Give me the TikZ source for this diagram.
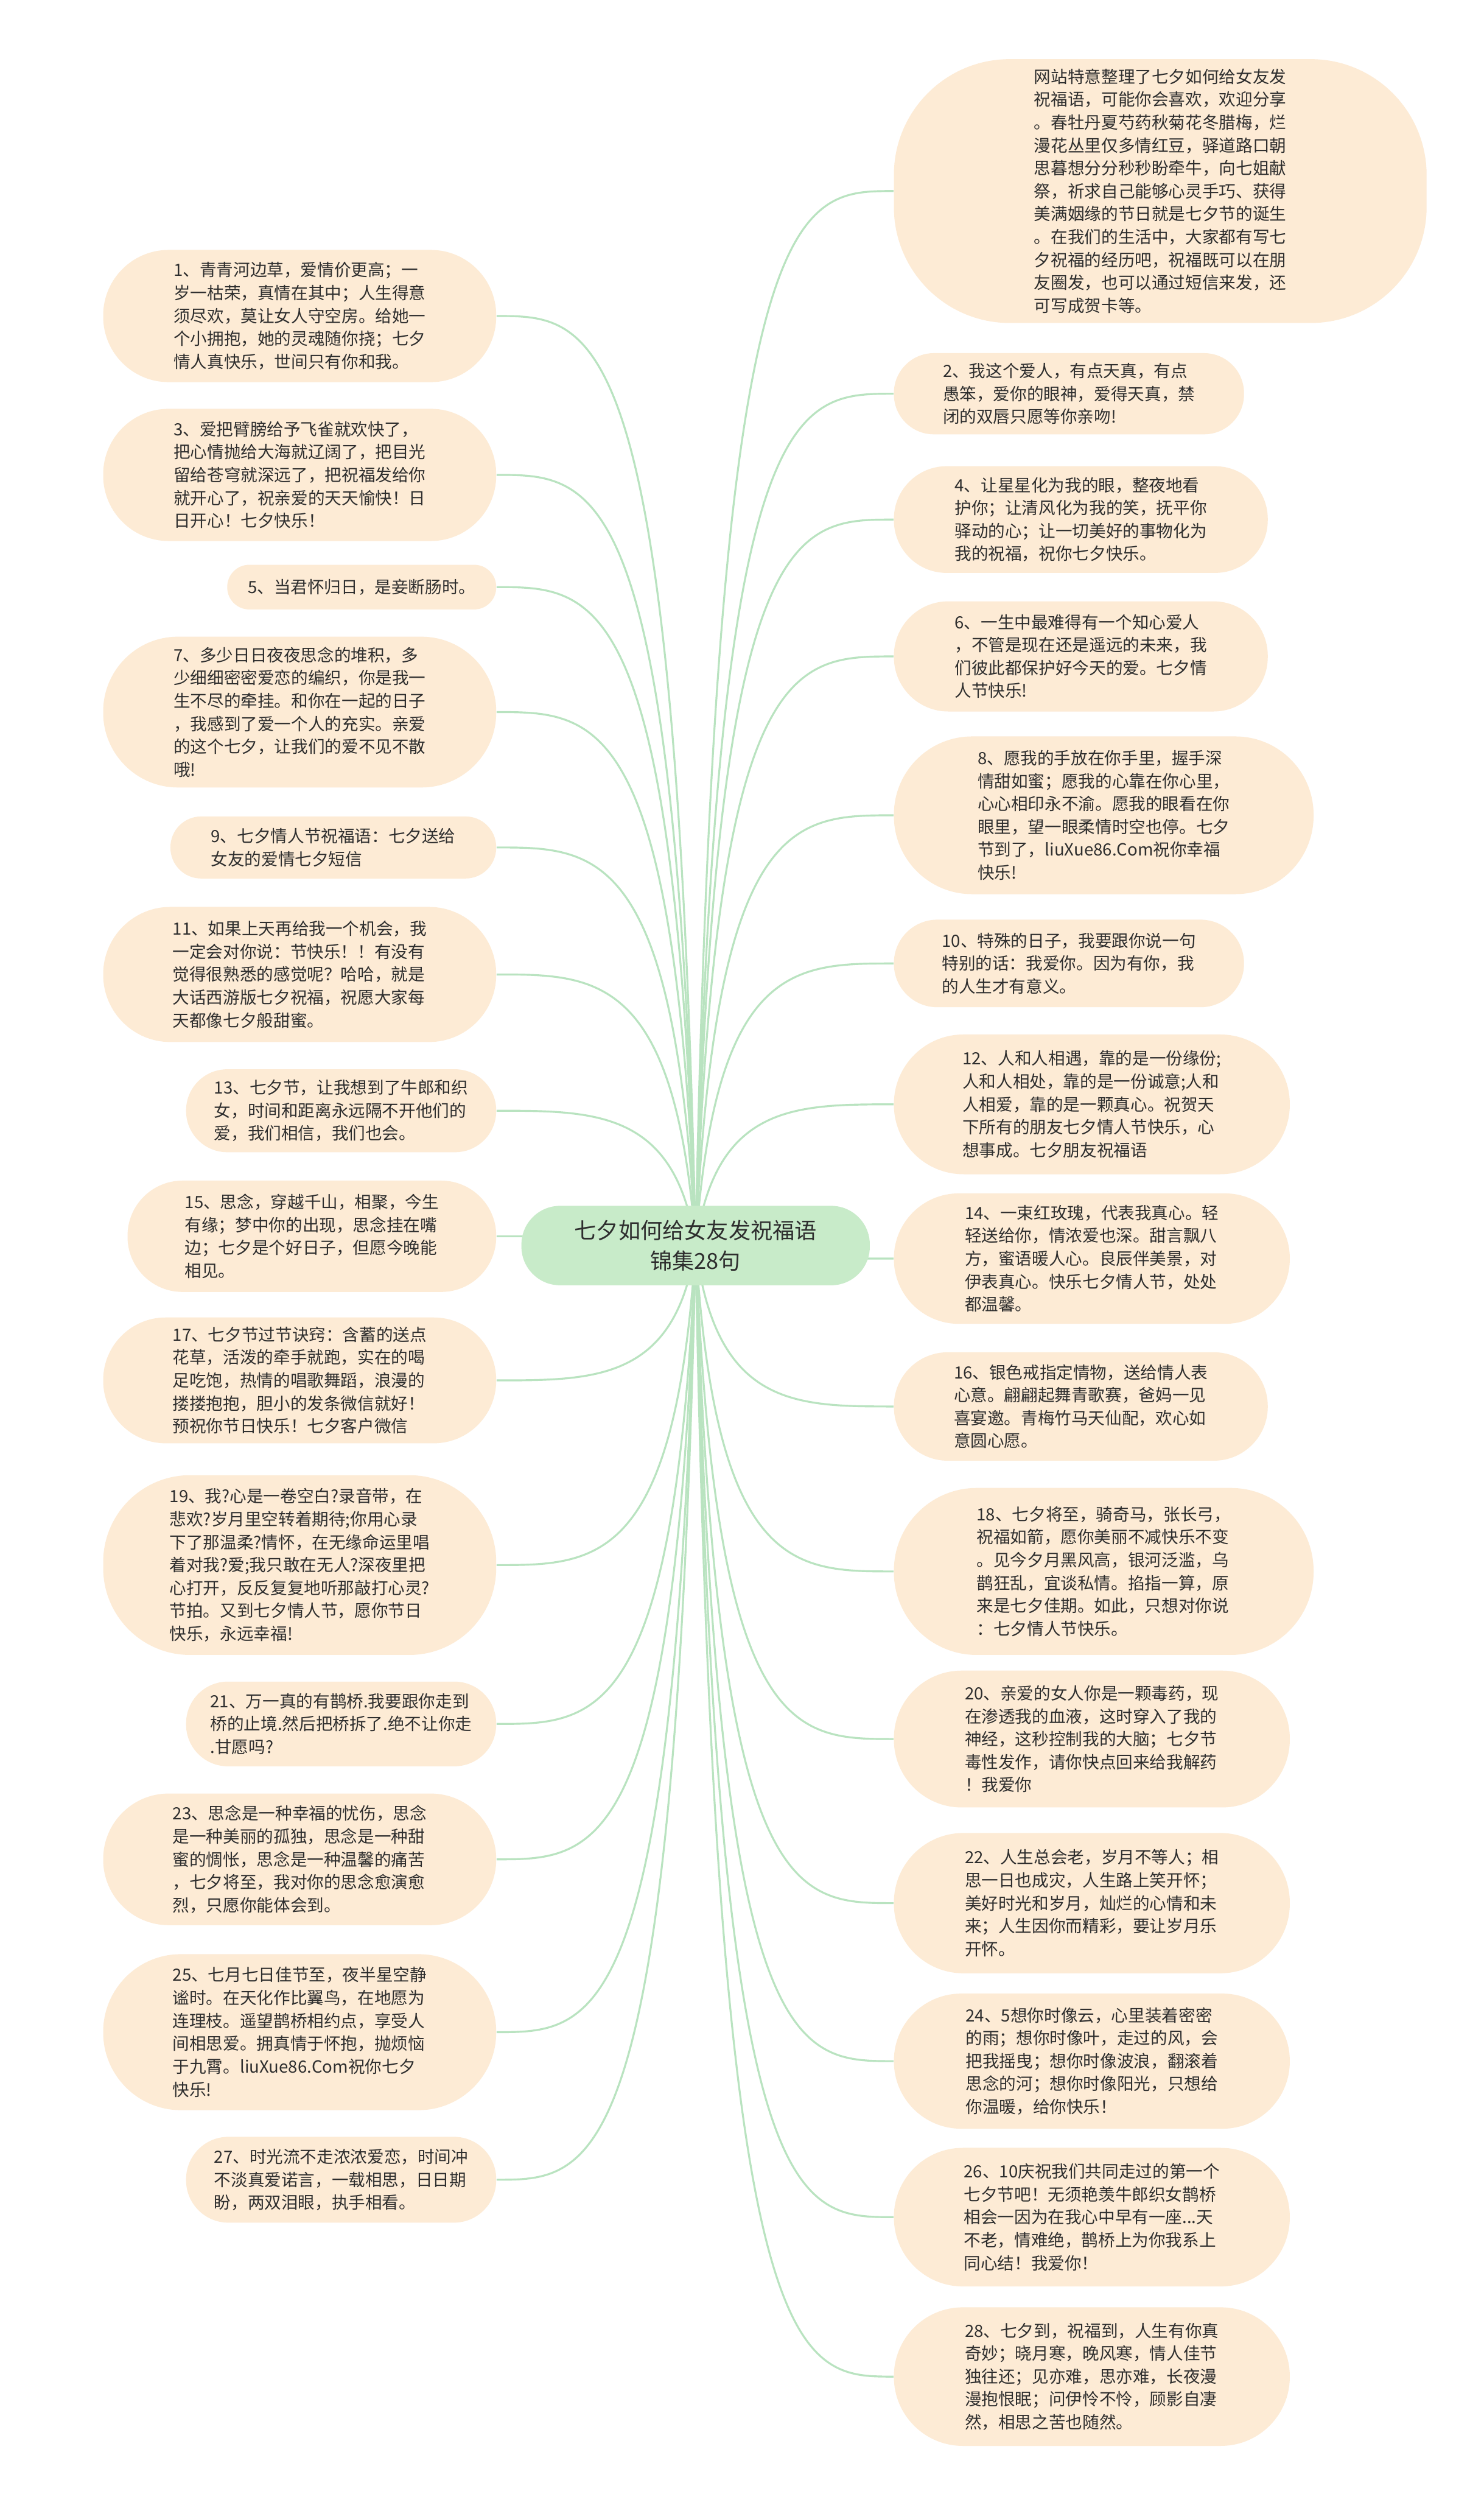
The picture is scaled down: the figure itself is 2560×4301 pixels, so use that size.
\documentclass[tikz,border=0pt]{standalone}
\usepackage{fontspec}
\setmainfont{Noto Sans CJK SC}
\usetikzlibrary{calc}
\definecolor{leaffill}{HTML}{FDEBD5}
\definecolor{rootfill}{HTML}{C8EBC9}
\definecolor{linkc}{HTML}{B9E3C0}
\definecolor{txt}{HTML}{2E2E2E}
\pgfdeclarelayer{bg}
\pgfdeclarelayer{links}
\pgfsetlayers{bg,links,main}
\newcommand\LeafNode[7]{%
  \pgfmathsetmacro\LeafW{(#4-#2)*0.3}%
  \pgfmathsetmacro\LeafH{(#5-#3)*0.3}%
  \pgfmathsetmacro\LeafR{#6*0.3}%
  \node[leaf, minimum width=\LeafW pt, minimum height=\LeafH pt, rounded corners=\LeafR pt] (#1) at ({(#2+#4)/2},{(#3+#5)/2}) {#7};}
\newcommand\LinkTo[2]{%
  \draw[link] let \p1=(root.center), \p2=(#1.#2) in (\p1) .. controls ({\x1+0.1*(\x2-\x1)},\y2) and ({\x1+0.5*(\x2-\x1)},\y2) .. (\p2);}
\begin{document}
\begin{tikzpicture}[x=0.3pt,y=-0.3pt,
  leaf/.style={fill=leaffill, draw=none, inner sep=0pt, align=left, text=txt,
    font=\fontsize{8.7pt}{11.85pt}\selectfont},
  link/.style={draw=linkc, line width=1pt},
  rootbox/.style={fill=rootfill, draw=none, inner sep=0pt, align=center, text=txt,
    font=\fontsize{11.4pt}{15.6pt}\selectfont, rounded corners=20pt}]
\useasboundingbox (0,0) rectangle (2560,4301);
\begin{pgfonlayer}{bg}
\fill[white] (0,0) rectangle (2560,4301);
\end{pgfonlayer}

\node[rootbox, minimum width=180.3pt, minimum height=41.1pt] (root) at (1200,2148)
  {七夕如何给女友发祝福语\\锦集28句};

% left column
\LeafNode{n1}{178}{431}{856}{659}{113}{1、青青河边草，爱情价更高；一\\岁一枯荣，真情在其中；人生得意\\须尽欢，莫让女人守空房。给她一\\个小拥抱，她的灵魂随你挠；七夕\\情人真快乐，世间只有你和我。}
\LeafNode{n3}{178}{705}{856}{933}{113}{3、爱把臂膀给予飞雀就欢快了，\\把心情抛给大海就辽阔了，把目光\\留给苍穹就深远了，把祝福发给你\\就开心了，祝亲爱的天天愉快！日\\日开心！七夕快乐！}
\LeafNode{n5}{392}{974}{856}{1051}{38}{5、当君怀归日，是妾断肠时。}
\LeafNode{n7}{178}{1098}{856}{1358}{129}{7、多少日日夜夜思念的堆积，多\\少细细密密爱恋的编织，你是我一\\生不尽的牵挂。和你在一起的日子\\，我感到了爱一个人的充实。亲爱\\的这个七夕，让我们的爱不见不散\\哦!}
\LeafNode{n9}{294}{1408}{856}{1515}{53}{9、七夕情人节祝福语：七夕送给\\女友的爱情七夕短信}
\LeafNode{n11}{178}{1564}{856}{1797}{116}{11、如果上天再给我一个机会，我\\一定会对你说：节快乐！！有没有\\觉得很熟悉的感觉呢？哈哈，就是\\大话西游版七夕祝福，祝愿大家每\\天都像七夕般甜蜜。}
\LeafNode{n13}{321}{1844}{856}{1987}{71}{13、七夕节，让我想到了牛郎和织\\女，时间和距离永远隔不开他们的\\爱，我们相信，我们也会。}
\LeafNode{n15}{220}{2036}{856}{2228}{95}{15、思念，穿越千山，相聚，今生\\有缘；梦中你的出现，思念挂在嘴\\边；七夕是个好日子，但愿今晚能\\相见。}
\LeafNode{n17}{178}{2272}{856}{2489}{108}{17、七夕节过节诀窍：含蓄的送点\\花草，活泼的牵手就跑，实在的喝\\足吃饱，热情的唱歌舞蹈，浪漫的\\搂搂抱抱，胆小的发条微信就好！\\预祝你节日快乐！七夕客户微信}
\LeafNode{n19}{178}{2544}{856}{2854}{150}{19、我?心是一卷空白?录音带，在\\悲欢?岁月里空转着期待;你用心录\\下了那温柔?情怀，在无缘命运里唱\\着对我?爱;我只敢在无人?深夜里把\\心打开，反反复复地听那敲打心灵?\\节拍。又到七夕情人节，愿你节日\\快乐，永远幸福!}
\LeafNode{n21}{321}{2900}{856}{3046}{72}{21、万一真的有鹊桥.我要跟你走到\\桥的止境.然后把桥拆了.绝不让你走\\.甘愿吗?}
\LeafNode{n23}{178}{3093}{856}{3320}{113}{23、思念是一种幸福的忧伤，思念\\是一种美丽的孤独，思念是一种甜\\蜜的惆怅，思念是一种温馨的痛苦\\，七夕将至，我对你的思念愈演愈\\烈，只愿你能体会到。}
\LeafNode{n25}{178}{3370}{856}{3639}{134}{25、七月七日佳节至，夜半星空静\\谧时。在天化作比翼鸟，在地愿为\\连理枝。遥望鹊桥相约点，享受人\\间相思爱。拥真情于怀抱，抛烦恼\\于九霄。liuXue86.Com祝你七夕\\快乐!}
\LeafNode{n27}{321}{3685}{856}{3833}{73}{27、时光流不走浓浓爱恋，时间冲\\不淡真爱诺言，一载相思，日日期\\盼，两双泪眼，执手相看。}

% right column
\LeafNode{n0}{1542}{102}{2461}{557}{200}{网站特意整理了七夕如何给女友发\\祝福语，可能你会喜欢，欢迎分享\\。春牡丹夏芍药秋菊花冬腊梅，烂\\漫花丛里仅多情红豆，驿道路口朝\\思暮想分分秒秒盼牵牛，向七姐献\\祭，祈求自己能够心灵手巧、获得\\美满姻缘的节日就是七夕节的诞生\\。在我们的生活中，大家都有写七\\夕祝福的经历吧，祝福既可以在朋\\友圈发，也可以通过短信来发，还\\可写成贺卡等。}
\LeafNode{n2}{1542}{609}{2146}{749}{69}{2、我这个爱人，有点天真，有点\\愚笨，爱你的眼神，爱得天真，禁\\闭的双唇只愿等你亲吻!}
\LeafNode{n4}{1542}{804}{2187}{988}{91}{4、让星星化为我的眼，整夜地看\\护你；让清风化为我的笑，抚平你\\驿动的心；让一切美好的事物化为\\我的祝福，祝你七夕快乐。}
\LeafNode{n6}{1542}{1037}{2187}{1227}{94}{6、一生中最难得有一个知心爱人\\，不管是现在还是遥远的未来，我\\们彼此都保护好今天的爱。七夕情\\人节快乐!}
\LeafNode{n8}{1542}{1270}{2266}{1542}{135}{8、愿我的手放在你手里，握手深\\情甜如蜜；愿我的心靠在你心里，\\心心相印永不渝。愿我的眼看在你\\眼里，望一眼柔情时空也停。七夕\\节到了，liuXue86.Com祝你幸福\\快乐!}
\LeafNode{n10}{1542}{1586}{2146}{1737}{75}{10、特殊的日子，我要跟你说一句\\特别的话：我爱你。因为有你，我\\的人生才有意义。}
\LeafNode{n12}{1542}{1784}{2225}{2025}{120}{12、人和人相遇，靠的是一份缘份;\\人和人相处，靠的是一份诚意;人和\\人相爱，靠的是一颗真心。祝贺天\\下所有的朋友七夕情人节快乐，心\\想事成。七夕朋友祝福语}
\LeafNode{n14}{1542}{2058}{2225}{2283}{112}{14、一束红玫瑰，代表我真心。轻\\轻送给你，情浓爱也深。甜言飘八\\方，蜜语暖人心。良辰伴美景，对\\伊表真心。快乐七夕情人节，处处\\都温馨。}
\LeafNode{n16}{1542}{2332}{2187}{2519}{93}{16、银色戒指定情物，送给情人表\\心意。翩翩起舞青歌赛，爸妈一见\\喜宴邀。青梅竹马天仙配，欢心如\\意圆心愿。}
\LeafNode{n18}{1542}{2566}{2266}{2854}{143}{18、七夕将至，骑奇马，张长弓，\\祝福如箭，愿你美丽不减快乐不变\\。见今夕月黑风高，银河泛滥，乌\\鹊狂乱，宜谈私情。掐指一算，原\\来是七夕佳期。如此，只想对你说\\：七夕情人节快乐。}
\LeafNode{n20}{1542}{2881}{2225}{3117}{117}{20、亲爱的女人你是一颗毒药，现\\在渗透我的血液，这时穿入了我的\\神经，这秒控制我的大脑；七夕节\\毒性发作，请你快点回来给我解药\\！我爱你}
\LeafNode{n22}{1542}{3161}{2225}{3403}{120}{22、人生总会老，岁月不等人；相\\思一日也成灾，人生路上笑开怀；\\美好时光和岁月，灿烂的心情和未\\来；人生因你而精彩，要让岁月乐\\开怀。}
\LeafNode{n24}{1542}{3438}{2225}{3671}{116}{24、5想你时像云，心里装着密密\\的雨；想你时像叶，走过的风，会\\把我摇曳；想你时像波浪，翻滚着\\思念的河；想你时像阳光，只想给\\你温暖，给你快乐！}
\LeafNode{n26}{1542}{3704}{2225}{3943}{119}{26、10庆祝我们共同走过的第一个\\七夕节吧！无须艳羡牛郎织女鹊桥\\相会一因为在我心中早有一座...天\\不老，情难绝，鹊桥上为你我系上\\同心结！我爱你！}
\LeafNode{n28}{1542}{3979}{2225}{4218}{119}{28、七夕到，祝福到，人生有你真\\奇妙；晓月寒，晚风寒，情人佳节\\独往还；见亦难，思亦难，长夜漫\\漫抱恨眠；问伊怜不怜，顾影自凄\\然，相思之苦也随然。}

\begin{pgfonlayer}{links}
\foreach \nd in {n1,n3,n5,n7,n9,n11,n13,n15,n17,n19,n21,n23,n25,n27}{\LinkTo{\nd}{east}}
\foreach \nd in {n0,n2,n4,n6,n8,n10,n12,n14,n16,n18,n20,n22,n24,n26,n28}{\LinkTo{\nd}{west}}
\end{pgfonlayer}
\end{tikzpicture}
\end{document}
